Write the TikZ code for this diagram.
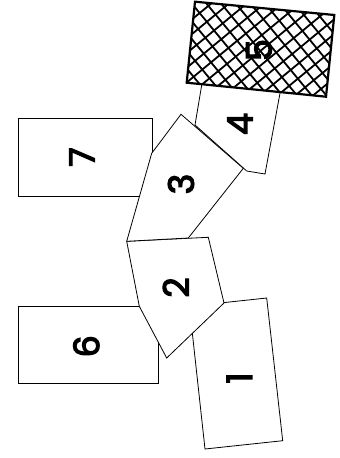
\documentclass[tikz,border=0pt]{standalone}
\usepackage{fontspec}
\newfontfamily\digitfont{Poppins}[FakeBold=3.5]
\begin{document}
\begin{tikzpicture}[x=1pt,y=-1pt,
  piece/.style={draw=black, fill=white, line width=0.8pt, line join=miter},
  num/.style={font=\digitfont\fontsize{35}{35}\selectfont, rotate=90, inner sep=0pt}]
\useasboundingbox (0,0) rectangle (340,458);
% box 7
\draw[piece] (18.3,118.3) rectangle (152.3,196.7);
\node[num] (n7) at (82,157) {7};
% box 6
\draw[piece] (18.3,306.3) rectangle (158.3,383.7);
\node[num] (n6) at (86.3,346.3) {6};
% box 1
\draw[piece] (189.4,306.3) -- (266.7,298) -- (282.7,440.7) -- (205,449) -- cycle;
\node[num] (n1) at (239.3,378) {1};
% box 4
\draw[piece] (203.4,75) -- (281.9,83) -- (265,174) -- (246.7,171) -- (195,125) -- cycle;
\node[num] (n4) at (240,124) {4};
% box 5 (hatched)
\fill[white] (195,1.7) -- (334.3,15) -- (326,96.7) -- (186.7,82.7) -- cycle;
\node[num] (n5) at (259,50) {5};
\begin{scope}
  \clip (195,1.7) -- (334.3,15) -- (326,96.7) -- (186.7,82.7) -- cycle;
  \begin{scope}[shift={(260.5,49)}, rotate=-5.45]
    \foreach \i in {-16,...,16} {
      \draw[line width=1.8pt] (\i*16,-110) -- (\i*16+220,110);
      \draw[line width=1.8pt] (\i*16,-110) -- (\i*16-220,110);
    }
  \end{scope}
\end{scope}
\draw[line width=2.2pt, line join=miter] (195,1.7) -- (334.3,15) -- (326,96.7) -- (186.7,82.7) -- cycle;
% box 2
\draw[piece] (126.7,241.3) -- (208.3,237.3) -- (224,303) -- (166.7,358) -- (139.3,306.3) -- cycle;
\node[num] (n2) at (175.8,287.5) {2};
% box 3
\draw[piece] (181,114.3) -- (243.3,168.3) -- (188.3,238) -- (126.7,241.3) -- (151.7,153.3) -- cycle;
\node[num] (n3) at (181,184) {3};
\end{tikzpicture}
\end{document}
